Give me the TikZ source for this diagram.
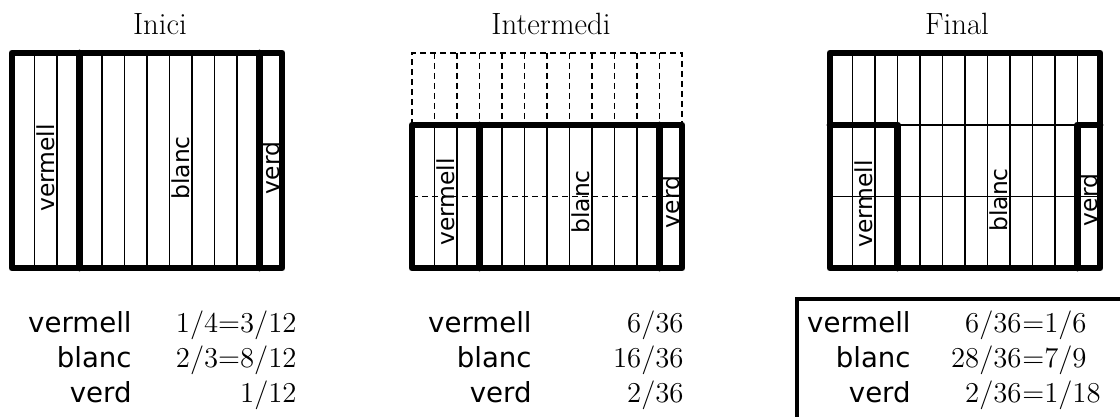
\documentclass[tikz,border=0pt]{standalone}
\usepackage{fontspec}
\newfontfamily\labfont{DejaVu Sans}
\tikzset{
  gridline/.style={line width=0.8pt},
  heavyline/.style={line width=3.4pt, line join=round, line cap=round},
  dashline/.style={line width=0.7pt, dash pattern=on 3pt off 2pt},
  boxlabel/.style={font=\labfont\fontsize{11.7}{14}\selectfont, rotate=90, inner sep=0pt},
  tablabel/.style={font=\labfont\fontsize{13.8}{16}\selectfont, anchor=base east, inner sep=0pt},
  tabnum/.style={font=\fontsize{15.4}{18}\selectfont, anchor=base east, inner sep=0pt},
  tabnumr/.style={font=\fontsize{15.4}{18}\selectfont, anchor=base west, inner sep=0pt},
  titletext/.style={font=\fontsize{15.4}{18}\selectfont, anchor=base, inner sep=0pt},
  tablebox/.style={line width=2pt},
}
\begin{document}
\begin{tikzpicture}[x=0.5pt,y=-0.5pt]
\useasboundingbox (0,0) rectangle (1120,417);

% ---------- Inici ----------
\node[titletext] (t-ini) at (160,35) {Inici};
\foreach \i in {1,2,4,5,6,7,8,9,10}
  \draw[gridline] ({12+\i*22.5},53) -- ({12+\i*22.5},268);
\draw[heavyline] (12,53) rectangle (282,268);
\draw[heavyline] (79.5,53) -- (79.5,268);
\draw[heavyline] (259.5,53) -- (259.5,268);
\node[boxlabel] (ini-v) at (45.75,168) {vermell};
\node[boxlabel] (ini-b) at (180.75,168) {blanc};
\node[boxlabel] (ini-g) at (270.75,168) {verd};

\node[tablabel] (ini-l1) at (132,332) {vermell};
\node[tablabel] (ini-l2) at (132,367) {blanc};
\node[tablabel] (ini-l3) at (132,402) {verd};
\node[tabnum] (ini-n1) at (297,332) {$1/4{=}3/12$};
\node[tabnum] (ini-n2) at (297,367) {$2/3{=}8/12$};
\node[tabnum] (ini-n3) at (297,402) {$1/12$};

% ---------- Intermedi ----------
\node[titletext] (t-int) at (551,35) {Intermedi};
\draw[dashline] (412,125) -- (412,53) -- (682,53) -- (682,125);
\foreach \i in {1,...,11}
  \draw[dashline] ({412+\i*22.5},53) -- ({412+\i*22.5},125);
\foreach \i in {1,2,4,5,6,7,8,9,10}
  \draw[gridline] ({412+\i*22.5},125) -- ({412+\i*22.5},268);
\draw[dashline] (412,196.5) -- (682,196.5);
\draw[heavyline] (412,125) rectangle (682,268);
\draw[heavyline] (479.5,125) -- (479.5,268);
\draw[heavyline] (659.5,125) -- (659.5,268);
\node[boxlabel] (int-v) at (445.75,202) {vermell};
\node[boxlabel] (int-b) at (580.75,202) {blanc};
\node[boxlabel] (int-g) at (670.75,202) {verd};

\node[tablabel] (int-l1) at (532,332) {vermell};
\node[tablabel] (int-l2) at (532,367) {blanc};
\node[tablabel] (int-l3) at (532,402) {verd};
\node[tabnum] (int-n1) at (684,332) {$6/36$};
\node[tabnum] (int-n2) at (684,367) {$16/36$};
\node[tabnum] (int-n3) at (684,402) {$2/36$};

% ---------- Final ----------
\node[titletext] (t-fin) at (957,35) {Final};
\foreach \i in {1,...,11}
  \draw[gridline] ({830+\i*22.5},53) -- ({830+\i*22.5},268);
\draw[gridline] (830,125) -- (1100,125);
\draw[gridline] (830,196.5) -- (1100,196.5);
\draw[heavyline] (830,53) rectangle (1100,268);
\draw[heavyline] (830,125) -- (897.5,125) -- (897.5,268);
\draw[heavyline] (1077.5,268) -- (1077.5,125) -- (1100,125);
\node[boxlabel] (fin-v) at (863.75,204) {vermell};
\node[boxlabel] (fin-b) at (998.75,200) {blanc};
\node[boxlabel] (fin-g) at (1088.75,200) {verd};

\begin{scope}
  \clip (0,0) rectangle (1120,417);
  \draw[tablebox] (797,299) rectangle (1160,460);
\end{scope}
\node[tablabel] (fin-l1) at (911,332) {vermell};
\node[tablabel] (fin-l2) at (911,367) {blanc};
\node[tablabel] (fin-l3) at (911,402) {verd};
\node[tabnum] (fin-a1) at (1022,332) {$6/36$};
\node[tabnum] (fin-a2) at (1022,367) {$28/36$};
\node[tabnum] (fin-a3) at (1022,402) {$2/36$};
\node[tabnumr] (fin-b1) at (1022,332) {${=}1/6$};
\node[tabnumr] (fin-b2) at (1022,367) {${=}7/9$};
\node[tabnumr] (fin-b3) at (1022,402) {${=}1/18$};
\end{tikzpicture}
\end{document}
